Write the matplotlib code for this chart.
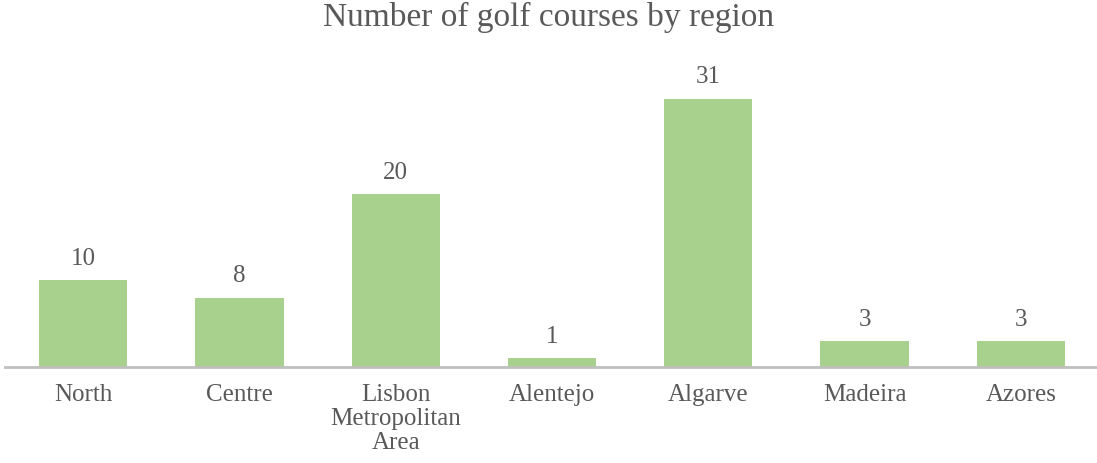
import matplotlib
matplotlib.use("Agg")
import matplotlib.pyplot as plt

regions = ["North", "Centre", "Lisbon\nMetropolitan\nArea", "Alentejo", "Algarve", "Madeira", "Azores"]
courses = [10, 8, 20, 1, 31, 3, 3]

plot_title = "Number of golf courses by region"
bar_color = "#A9D18E"
text_color = "#595959"

plt.rcParams['font.family'] = ['Liberation Serif', 'DejaVu Serif']


def main():
    fig = plt.figure(figsize=(10.97, 4.63), dpi=100)
    ax = fig.add_axes([5 / 1097, 96 / 463, 1094 / 1097, 303 / 463])

    x = range(len(regions))
    bars = ax.bar(x, courses, width=0.565, color=bar_color)

    for rect, v in zip(bars, courses):
        ax.annotate(str(v), (rect.get_x() + rect.get_width() / 2, v),
                    xytext=(0, 11), textcoords="offset points",
                    ha="center", va="baseline", fontsize=18, color=text_color)

    ax.set_xlim(-0.5, len(regions) - 0.5)
    ax.set_ylim(0, 35)
    ax.set_xticks(list(x))
    ax.set_xticklabels(regions, fontsize=18, color=text_color, linespacing=1.12)
    ax.tick_params(axis="x", length=0, pad=12)
    ax.set_yticks([])

    for s in ["top", "right", "left"]:
        ax.spines[s].set_visible(False)
    ax.spines["bottom"].set_color("#BFBFBF")
    ax.spines["bottom"].set_linewidth(2)

    fig.text(0.5, 1 - 26 / 463, plot_title, ha="center", va="baseline",
             fontsize=24, color=text_color)

    fig.savefig("out.png", dpi=100)


if __name__ == '__main__':
    main()
